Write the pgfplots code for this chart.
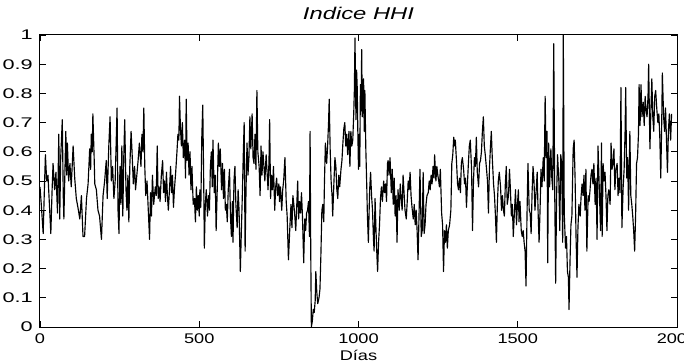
\documentclass[border=0pt]{standalone}
\usepackage{fontspec}
\usepackage{graphicx}
\usepackage{pgfplots}
\pgfplotsset{compat=1.18}
\setmainfont{Liberation Sans}
\newfontfamily\tickfont[FakeStretch=1.3]{Liberation Sans}
\newfontfamily\ytickfont[FakeStretch=1.55]{Liberation Sans}
\newfontfamily\titlefont[FakeStretch=1.4]{Liberation Sans}
\begin{document}
\begin{tikzpicture}
\begin{axis}[
  name=ax,
  scale only axis,
  width=637bp, height=292bp,
  xmin=0, xmax=2000, ymin=0, ymax=1,
  xtick={0,500,1000,1500,2000},
  ytick={0,0.1,0.2,0.3,0.4,0.5,0.6,0.7,0.8,0.9,1},
  yticklabels={0,0.1,0.2,0.3,0.4,0.5,0.6,0.7,0.8,0.9,1},
  scaled x ticks=false,
  /pgf/number format/assume math mode=true,
  /pgf/number format/1000 sep={},
  tick align=inside,
  major tick length=6bp,
  tick style={black, line width=0.8bp},
  axis line style={black, line width=1bp},
  tick label style={font=\tickfont\fontsize{14bp}{16bp}\selectfont, inner sep=0pt},
  xticklabel style={anchor=north, yshift=-7bp},
  yticklabel style={anchor=east, xshift=-7bp, font=\ytickfont\fontsize{14bp}{16bp}\selectfont},
  title={\titlefont\itshape\fontsize{17bp}{19bp}\selectfont Indice HHI},
  title style={at={(0.5,1)}, anchor=base, yshift=10bp, inner sep=0pt},
  xlabel={\tickfont\fontsize{14bp}{16bp}\selectfont Días},
  xlabel style={at={(0.5,0)}, anchor=base, yshift=-33bp, inner sep=0pt},
  clip=true,
]
\addplot[black, line width=1.15bp, line join=round] table[row sep=\\] {
x y \\
0 0.48 \\ 4 0.42 \\ 10 0.32 \\ 14 0.48 \\ 17 0.59 \\ 21 0.50 \\ 25 0.52 \\ 30 0.41 \\ 34 0.32 \\ 38 0.47 \\
41 0.56 \\ 46 0.47 \\ 50 0.53 \\ 55 0.39 \\ 59 0.66 \\ 62 0.37 \\ 65 0.58 \\ 70 0.71 \\ 73 0.45 \\ 75 0.37 \\
81 0.67 \\ 84 0.52 \\ 86 0.63 \\ 90 0.50 \\ 94 0.56 \\ 98 0.48 \\ 104 0.62 \\ 109 0.51 \\ 114 0.44 \\ 119 0.41 \\
125 0.37 \\ 130 0.45 \\ 135 0.31 \\ 140 0.31 \\ 146 0.44 \\ 151 0.49 \\ 156 0.61 \\ 159 0.54 \\ 161 0.66 \\ 164 0.60 \\
166 0.73 \\ 170 0.58 \\ 172 0.49 \\ 177 0.47 \\ 182 0.40 \\ 187 0.38 \\ 193 0.30 \\ 198 0.45 \\ 203 0.50 \\ 208 0.57 \\
211 0.44 \\ 216 0.62 \\ 220 0.72 \\ 224 0.50 \\ 228 0.55 \\ 232 0.44 \\ 236 0.50 \\ 242 0.75 \\ 245 0.40 \\ 248 0.32 \\
251 0.55 \\ 254 0.42 \\ 257 0.62 \\ 260 0.38 \\ 263 0.58 \\ 266 0.71 \\ 270 0.47 \\ 273 0.40 \\ 276 0.52 \\ 279 0.36 \\
282 0.55 \\ 286 0.67 \\ 289 0.60 \\ 293 0.49 \\ 297 0.55 \\ 300 0.47 \\ 304 0.52 \\ 308 0.57 \\ 312 0.63 \\ 317 0.55 \\
320 0.66 \\ 323 0.60 \\ 326 0.75 \\ 329 0.55 \\ 332 0.45 \\ 336 0.50 \\ 340 0.40 \\ 344 0.30 \\ 347 0.46 \\ 350 0.38 \\
353 0.52 \\ 357 0.42 \\ 362 0.48 \\ 365 0.45 \\ 368 0.62 \\ 371 0.44 \\ 374 0.48 \\ 377 0.43 \\ 381 0.52 \\ 385 0.57 \\
388 0.46 \\ 391 0.50 \\ 394 0.43 \\ 397 0.53 \\ 400 0.45 \\ 403 0.40 \\ 407 0.48 \\ 410 0.55 \\ 413 0.46 \\ 416 0.52 \\
419 0.41 \\ 422 0.47 \\ 426 0.53 \\ 430 0.60 \\ 433 0.66 \\ 436 0.64 \\ 438 0.79 \\ 441 0.68 \\ 444 0.62 \\ 447 0.70 \\
450 0.58 \\ 454 0.64 \\ 457 0.51 \\ 459 0.78 \\ 462 0.57 \\ 465 0.63 \\ 468 0.52 \\ 471 0.60 \\ 474 0.47 \\ 477 0.55 \\
481 0.42 \\ 485 0.44 \\ 488 0.36 \\ 491 0.48 \\ 494 0.40 \\ 497 0.45 \\ 500 0.38 \\
502 0.47 \\ 505 0.41 \\ 508 0.65 \\ 511 0.76 \\ 514 0.50 \\ 516 0.27 \\ 519 0.42 \\ 522 0.47 \\ 526 0.38 \\ 529 0.45 \\
532 0.40 \\ 535 0.55 \\ 538 0.60 \\ 541 0.48 \\ 543 0.64 \\ 547 0.46 \\ 550 0.52 \\ 553 0.33 \\ 556 0.45 \\ 560 0.63 \\
563 0.55 \\ 566 0.61 \\ 570 0.47 \\ 573 0.56 \\ 576 0.44 \\ 579 0.54 \\ 582 0.40 \\ 585 0.42 \\ 588 0.36 \\ 591 0.47 \\
595 0.54 \\ 598 0.38 \\ 601 0.31 \\ 604 0.43 \\ 606 0.29 \\ 609 0.50 \\ 612 0.55 \\ 615 0.42 \\ 619 0.34 \\ 622 0.47 \\
625 0.40 \\ 629 0.19 \\ 632 0.32 \\ 635 0.44 \\ 638 0.58 \\ 641 0.70 \\ 644 0.26 \\ 647 0.48 \\ 650 0.63 \\ 653 0.52 \\
656 0.58 \\ 659 0.72 \\ 662 0.61 \\ 666 0.73 \\ 669 0.58 \\ 672 0.56 \\ 675 0.66 \\ 678 0.54 \\ 681 0.81 \\ 684 0.60 \\
688 0.55 \\ 691 0.45 \\ 694 0.62 \\ 697 0.52 \\ 700 0.60 \\ 703 0.55 \\ 706 0.50 \\ 710 0.59 \\ 713 0.53 \\ 716 0.47 \\
719 0.57 \\ 721 0.71 \\ 724 0.44 \\ 727 0.52 \\ 730 0.47 \\ 733 0.55 \\ 737 0.40 \\ 740 0.48 \\ 743 0.51 \\ 746 0.45 \\
750 0.49 \\
752 0.43 \\ 755 0.48 \\ 759 0.40 \\ 762 0.47 \\ 765 0.50 \\ 769 0.58 \\ 773 0.43 \\ 776 0.38 \\ 780 0.23 \\ 784 0.33 \\
788 0.42 \\ 791 0.34 \\ 794 0.45 \\ 797 0.42 \\ 800 0.38 \\ 803 0.33 \\ 807 0.44 \\ 809 0.50 \\ 812 0.37 \\ 815 0.43 \\
818 0.39 \\ 821 0.46 \\ 824 0.38 \\ 828 0.22 \\ 831 0.37 \\ 834 0.33 \\ 837 0.39 \\ 840 0.40 \\ 843 0.43 \\ 846 0.31 \\
848 0.67 \\ 850 0.27 \\ 852 0.00 \\ 855 0.02 \\ 858 0.06 \\ 861 0.05 \\ 864 0.09 \\ 866 0.19 \\ 869 0.12 \\ 872 0.08 \\
876 0.10 \\ 879 0.13 \\ 882 0.25 \\ 885 0.40 \\ 888 0.42 \\ 891 0.36 \\ 893 0.49 \\ 896 0.63 \\ 900 0.56 \\ 903 0.62 \\
906 0.70 \\ 908 0.78 \\ 911 0.61 \\ 914 0.50 \\ 917 0.45 \\ 919 0.38 \\ 923 0.50 \\ 926 0.58 \\ 929 0.55 \\ 932 0.47 \\
935 0.44 \\ 938 0.52 \\ 941 0.48 \\ 945 0.54 \\ 948 0.57 \\ 951 0.63 \\ 954 0.68 \\ 957 0.70 \\ 960 0.62 \\ 963 0.66 \\
966 0.59 \\ 970 0.67 \\ 973 0.55 \\ 976 0.67 \\ 979 0.62 \\ 982 0.64 \\ 985 0.73 \\ 987 0.81 \\ 989 0.99 \\ 992 0.71 \\
994 0.88 \\ 996 0.82 \\ 998 0.66 \\ 1000 0.54 \\ 1002 0.66 \\
1004 0.55 \\ 1006 0.83 \\ 1008 0.74 \\ 1010 0.95 \\ 1012 0.72 \\ 1014 0.79 \\ 1016 0.85 \\ 1018 0.67 \\ 1020 0.81 \\ 1023 0.61 \\
1026 0.48 \\ 1028 0.38 \\ 1031 0.29 \\ 1035 0.47 \\ 1038 0.53 \\ 1041 0.45 \\ 1044 0.40 \\ 1047 0.30 \\ 1049 0.26 \\ 1052 0.44 \\
1055 0.33 \\ 1058 0.24 \\ 1060 0.19 \\ 1063 0.29 \\ 1066 0.35 \\ 1069 0.44 \\ 1072 0.48 \\ 1075 0.43 \\ 1079 0.50 \\ 1082 0.46 \\
1085 0.49 \\ 1088 0.43 \\ 1091 0.56 \\ 1093 0.57 \\ 1096 0.52 \\ 1099 0.58 \\ 1103 0.46 \\ 1106 0.54 \\ 1109 0.42 \\ 1112 0.51 \\
1115 0.38 \\ 1118 0.45 \\ 1121 0.29 \\ 1124 0.47 \\ 1128 0.40 \\ 1131 0.49 \\ 1134 0.44 \\ 1137 0.40 \\ 1140 0.52 \\ 1143 0.46 \\
1146 0.40 \\ 1150 0.37 \\ 1153 0.43 \\ 1156 0.50 \\ 1159 0.47 \\ 1162 0.53 \\ 1165 0.45 \\ 1168 0.41 \\ 1172 0.37 \\ 1175 0.42 \\
1178 0.35 \\ 1181 0.40 \\ 1184 0.33 \\ 1187 0.23 \\ 1190 0.38 \\ 1193 0.54 \\ 1197 0.31 \\ 1200 0.33 \\ 1203 0.53 \\ 1206 0.32 \\
1209 0.35 \\ 1212 0.42 \\ 1215 0.45 \\ 1219 0.46 \\ 1222 0.50 \\ 1225 0.47 \\ 1228 0.52 \\ 1231 0.49 \\ 1234 0.55 \\ 1237 0.51 \\
1239 0.59 \\ 1243 0.50 \\ 1246 0.55 \\ 1249 0.52 \\ 1252 0.50 \\
1254 0.48 \\ 1257 0.54 \\ 1261 0.39 \\ 1264 0.35 \\ 1267 0.19 \\ 1270 0.33 \\ 1273 0.29 \\ 1276 0.35 \\ 1279 0.27 \\ 1282 0.33 \\
1286 0.35 \\ 1290 0.40 \\ 1293 0.56 \\ 1296 0.59 \\ 1299 0.65 \\ 1302 0.62 \\ 1304 0.64 \\ 1308 0.56 \\ 1311 0.49 \\ 1314 0.47 \\
1317 0.51 \\ 1320 0.46 \\ 1323 0.56 \\ 1326 0.58 \\ 1330 0.54 \\ 1333 0.49 \\ 1336 0.51 \\ 1339 0.41 \\ 1342 0.49 \\ 1345 0.56 \\
1348 0.62 \\ 1351 0.64 \\ 1355 0.54 \\ 1358 0.33 \\ 1361 0.50 \\ 1364 0.58 \\ 1367 0.55 \\ 1370 0.65 \\ 1373 0.53 \\ 1377 0.48 \\
1380 0.56 \\ 1383 0.57 \\ 1386 0.60 \\ 1389 0.67 \\ 1392 0.72 \\ 1395 0.62 \\ 1398 0.59 \\ 1402 0.54 \\ 1405 0.50 \\ 1408 0.39 \\
1411 0.54 \\ 1414 0.61 \\ 1417 0.67 \\ 1420 0.58 \\ 1424 0.49 \\ 1427 0.45 \\ 1430 0.38 \\ 1433 0.29 \\ 1436 0.42 \\ 1439 0.50 \\
1442 0.53 \\ 1446 0.48 \\ 1449 0.40 \\ 1452 0.45 \\ 1455 0.40 \\ 1458 0.38 \\ 1461 0.49 \\ 1464 0.55 \\ 1467 0.42 \\ 1471 0.45 \\
1474 0.54 \\ 1477 0.47 \\ 1480 0.38 \\ 1483 0.42 \\ 1486 0.31 \\ 1489 0.38 \\ 1493 0.47 \\ 1496 0.35 \\ 1499 0.42 \\ 1502 0.47 \\
1504 0.36 \\ 1507 0.43 \\ 1511 0.33 \\ 1514 0.31 \\ 1517 0.33 \\ 1520 0.29 \\ 1523 0.26 \\ 1526 0.14 \\ 1529 0.38 \\ 1532 0.56 \\
1536 0.40 \\ 1539 0.39 \\ 1542 0.32 \\ 1545 0.46 \\ 1548 0.55 \\ 1551 0.50 \\ 1554 0.40 \\ 1558 0.47 \\ 1561 0.53 \\ 1564 0.39 \\
1567 0.29 \\ 1570 0.40 \\ 1573 0.54 \\ 1576 0.48 \\ 1580 0.58 \\ 1583 0.50 \\ 1586 0.79 \\ 1589 0.58 \\ 1592 0.67 \\ 1594 0.22 \\
1597 0.63 \\ 1600 0.48 \\ 1604 0.61 \\ 1607 0.51 \\ 1610 0.47 \\ 1613 0.97 \\ 1616 0.47 \\ 1619 0.15 \\ 1622 0.45 \\ 1625 0.59 \\
1629 0.50 \\ 1632 0.33 \\ 1635 0.59 \\ 1638 0.56 \\ 1641 0.29 \\ 1643 1.00 \\ 1646 0.39 \\ 1650 0.27 \\ 1653 0.31 \\ 1656 0.19 \\
1659 0.17 \\ 1661 0.06 \\ 1664 0.22 \\ 1667 0.35 \\ 1670 0.38 \\ 1674 0.61 \\ 1677 0.64 \\ 1680 0.51 \\ 1683 0.31 \\ 1686 0.17 \\
1689 0.34 \\ 1692 0.42 \\ 1696 0.38 \\ 1699 0.45 \\ 1702 0.49 \\ 1705 0.45 \\ 1708 0.52 \\ 1711 0.40 \\ 1714 0.54 \\ 1717 0.26 \\
1721 0.45 \\ 1724 0.43 \\ 1727 0.47 \\ 1730 0.52 \\ 1733 0.54 \\ 1736 0.49 \\ 1739 0.56 \\ 1743 0.42 \\ 1746 0.51 \\ 1749 0.30 \\
1752 0.62 \\
1760 0.33 \\ 1763 0.63 \\ 1765 0.31 \\ 1768 0.56 \\ 1771 0.50 \\ 1774 0.53 \\ 1777 0.45 \\ 1780 0.33 \\ 1783 0.45 \\ 1786 0.47 \\
1790 0.42 \\ 1793 0.63 \\ 1796 0.54 \\ 1799 0.56 \\ 1802 0.61 \\ 1805 0.47 \\ 1808 0.54 \\ 1812 0.56 \\ 1815 0.45 \\ 1818 0.51 \\
1821 0.46 \\ 1824 0.82 \\ 1827 0.34 \\ 1831 0.48 \\ 1834 0.54 \\ 1837 0.67 \\ 1839 0.82 \\ 1842 0.51 \\ 1845 0.58 \\ 1848 0.40 \\
1852 0.67 \\ 1855 0.45 \\ 1858 0.42 \\ 1861 0.38 \\ 1864 0.33 \\ 1867 0.26 \\ 1870 0.38 \\ 1873 0.56 \\ 1876 0.58 \\ 1879 0.66 \\
1881 0.83 \\ 1884 0.69 \\ 1887 0.83 \\ 1890 0.72 \\ 1894 0.77 \\ 1897 0.69 \\ 1900 0.79 \\ 1903 0.74 \\ 1906 0.72 \\ 1909 0.79 \\
1911 0.90 \\ 1915 0.61 \\ 1918 0.74 \\ 1921 0.85 \\ 1924 0.72 \\ 1927 0.67 \\ 1930 0.79 \\ 1933 0.81 \\ 1937 0.74 \\ 1940 0.70 \\
1943 0.73 \\ 1946 0.65 \\ 1949 0.51 \\ 1952 0.70 \\ 1954 0.87 \\ 1958 0.72 \\ 1961 0.67 \\ 1964 0.75 \\ 1967 0.64 \\ 1970 0.53 \\
1973 0.67 \\ 1976 0.73 \\ 1980 0.64 \\ 1983 0.73 \\
};
\end{axis}
\pgfresetboundingbox
\path[use as bounding box] ([xshift=-40bp,yshift=-35bp]ax.south west) rectangle ([xshift=7bp,yshift=35bp]ax.north east);
\end{tikzpicture}
\end{document}
